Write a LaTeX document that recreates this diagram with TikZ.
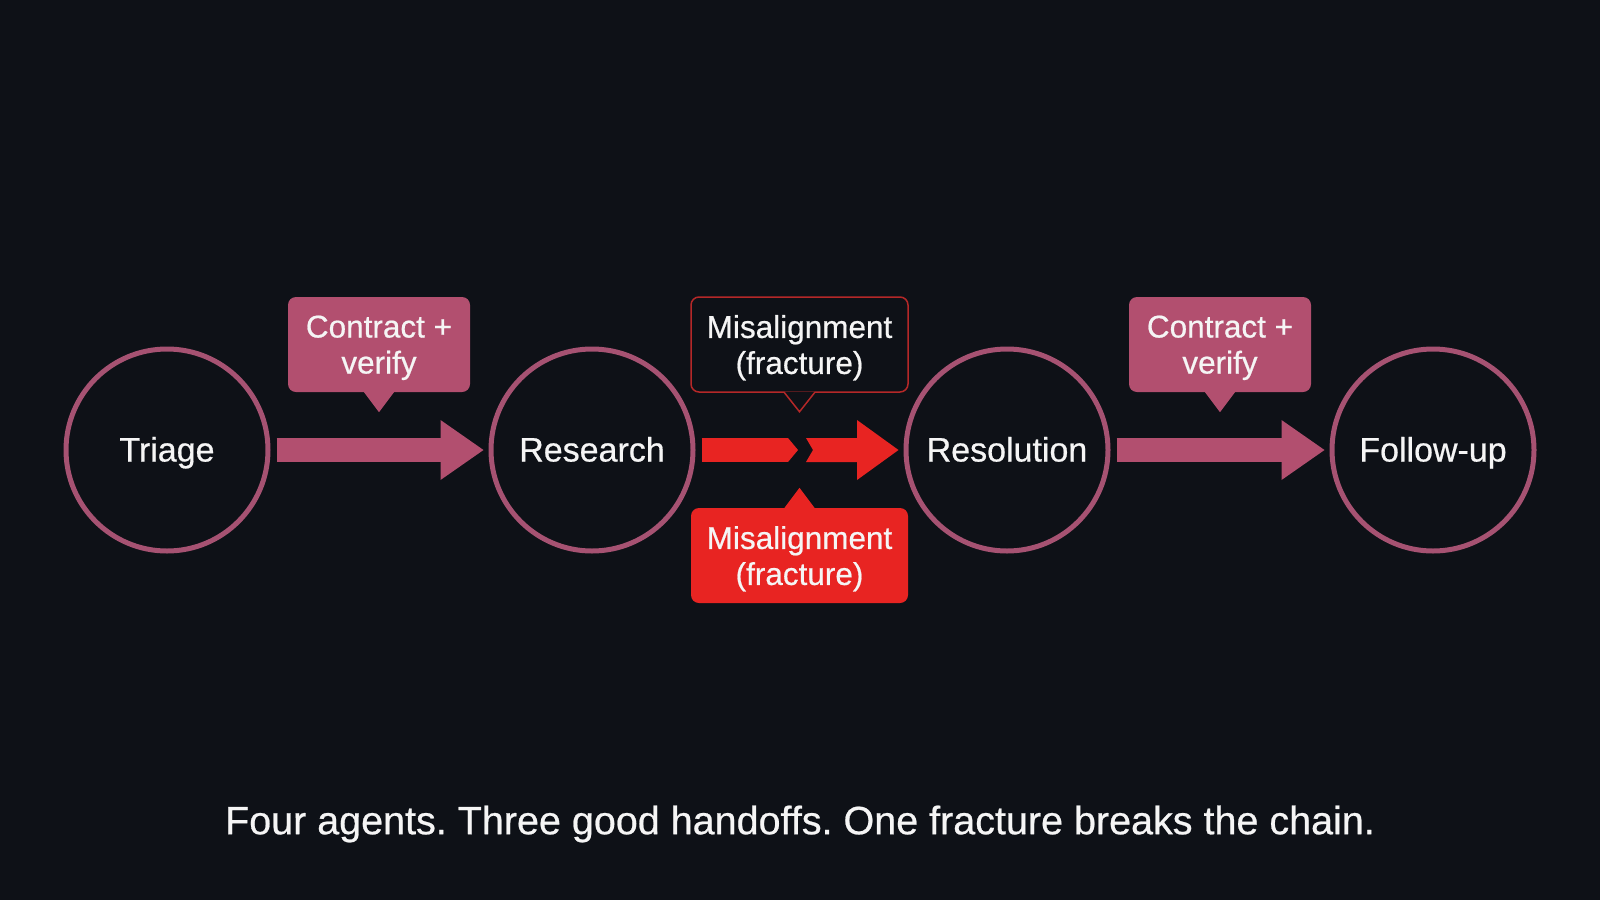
\documentclass[tikz,border=0pt]{standalone}
\usepackage{fontspec}
\setmainfont{Liberation Sans}[FakeBold=0.6]
\usetikzlibrary{arrows.meta,calc}
\frenchspacing

\definecolor{bgdark}{RGB}{14,17,23}
\definecolor{agentpink}{RGB}{166,82,114}
\definecolor{handoffpink}{RGB}{178,79,111}
\definecolor{fracred}{RGB}{232,36,34}
\definecolor{fracedge}{RGB}{180,40,40}
\definecolor{textwhite}{RGB}{245,245,245}

\tikzset{
    agent/.style={circle, draw=agentpink, line width=5pt, minimum size=202pt,
        text height=30pt, text depth=7pt,
        text=textwhite, font=\fontsize{34}{40}\selectfont},
    handoff/.style={draw=handoffpink, line width=24pt,
        -{Triangle[length=43pt,width=60pt,line width=0pt]}},
    notebox/.style={rectangle, rounded corners=8pt, minimum width=182pt,
        minimum height=95pt, align=center, text depth=-3.5pt,
        text=textwhite, font=\fontsize{31.5}{36}\selectfont},
    goodnote/.style={notebox, fill=handoffpink},
    badnote/.style={notebox, minimum width=217pt, draw=fracedge, line width=1.5pt, fill=bgdark},
    badnotefill/.style={notebox, minimum width=217pt, fill=fracred},
}

\begin{document}
\begin{tikzpicture}[x=1pt,y=-1pt]
    \fill[bgdark] (0,0) rectangle (1600,900);
    \useasboundingbox (0,0) rectangle (1600,900);

    % the four agents
    \node[agent] (triage) at (167,450) {Triage};
    \node[agent] (research) at (592,450) {Research};
    \node[agent] (resolution) at (1007,450) {Resolution};
    \node[agent] (followup) at (1433,450) {Follow-up};

    % good handoffs
    \foreach \a/\b in {triage/research, resolution/followup}
    {
        \draw[handoff] ([xshift=6pt]\a.east) -- ([xshift=-5pt]\b.west);
    }

    % the fracture
    \coordinate (breakL) at (798,450);
    \coordinate (breakR) at (806,450);
    \draw[draw=fracred, line width=24pt, -{Triangle[length=10pt,width=24pt,line width=0pt]}]
        ([xshift=6pt]research.east) -- (breakL);
    \fill[fracred] ($(breakR)+(0,-12)$) -- ($(breakR)+(51,-12)$) -- ($(breakR)+(51,-30)$)
        -- ([xshift=-5pt]resolution.west) -- ($(breakR)+(51,30)$) -- ($(breakR)+(51,12)$)
        -- ($(breakR)+(0,12)$) -- ($(breakR)+(7,0)$) -- cycle;

    % callouts
    \node[goodnote] (contractA) at (379,344.5) {Contract +\\verify};
    \node[goodnote] (contractB) at (1220,344.5) {Contract +\\verify};
    \node[badnote] (misalignTop) at (799.5,344.5) {Misalignment\\(fracture)};
    \node[badnotefill] (misalignBot) at (799.5,555.5) {Misalignment\\(fracture)};

    \foreach \n in {contractA, contractB}
    {
        \fill[handoffpink] ([xshift=-15pt]\n.south) -- ++(15,20) -- ++(15,-20) -- cycle;
    }
    \fill[bgdark] ([shift={(-15pt,1.2pt)}]misalignTop.south) -- ([yshift=-19pt]misalignTop.south)
        -- ([shift={(15pt,1.2pt)}]misalignTop.south) -- cycle;
    \draw[fracedge, line width=1.5pt] ([xshift=-15pt]misalignTop.south)
        -- ([yshift=-19pt]misalignTop.south) -- ([xshift=15pt]misalignTop.south);
    \fill[fracred] ([xshift=-15pt]misalignBot.north) -- ([yshift=20pt]misalignBot.north)
        -- ([xshift=15pt]misalignBot.north) -- cycle;

    \node[text=textwhite, font=\fontsize{39.5}{44}\selectfont] (caption) at (800,824)
        {Four agents. Three good handoffs. One fracture breaks the chain.};
\end{tikzpicture}
\end{document}
